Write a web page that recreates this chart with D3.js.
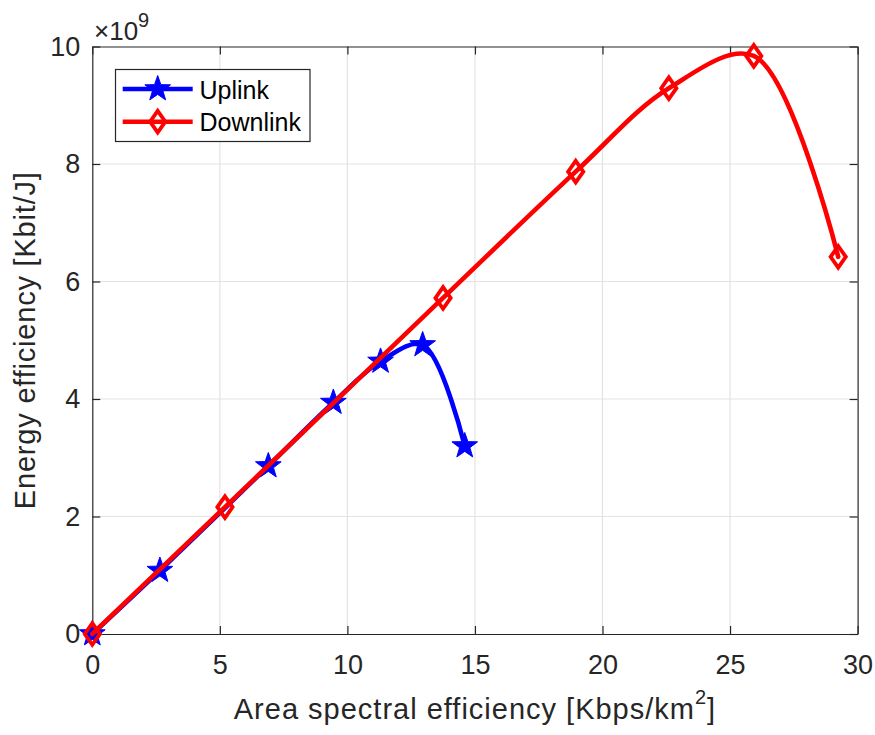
<!DOCTYPE html>
<html>
<head>
<meta charset="utf-8">
<script src="https://cdn.jsdelivr.net/npm/d3@7"></script>
<style>
  html, body { margin: 0; padding: 0; background: #fff; }
  svg { display: block; font-family: "Liberation Sans", Arial, Helvetica, sans-serif; }
</style>
</head>
<body>
<svg id="chart" width="875" height="735"></svg>
<script>
// Area spectral efficiency [Kbps/km^2] vs energy efficiency [x10^9 Kbit/J]
const uplinkASE   = [0, 2.65, 6.9, 9.45, 11.3, 12.95, 14.6];
const uplinkEE    = [0, 1.08, 2.86, 3.94, 4.64, 4.92, 3.2];
const downlinkASE = [0, 5.2, 13.75, 18.95, 22.6, 25.93, 29.24];
const downlinkEE  = [0, 2.16, 5.72, 7.87, 9.29, 9.84, 6.42];

const xTicks = [0, 5, 10, 15, 20, 25, 30];
const yTicks = [0, 2, 4, 6, 8, 10];
const seriesNames = ["Uplink", "Downlink"];
const seriesColors = ["#0000ff", "#ff0000"];

const svg = d3.select("#chart");
const plot = { left: 92.3, right: 857.6, top: 46.5, bottom: 634 };

const x = d3.scaleLinear().domain([0, 30]).range([plot.left, plot.right]);
const y = d3.scaleLinear().domain([0, 10]).range([plot.bottom, plot.top]);

const axisColor = "#262626";
const gridColor = "#e3e3e3";

// grid
const grid = svg.append("g");
grid.selectAll("line.gx").data(xTicks.slice(1, -1)).enter().append("line")
  .attr("x1", d => x(d)).attr("x2", d => x(d))
  .attr("y1", plot.top).attr("y2", plot.bottom)
  .attr("stroke", gridColor).attr("stroke-width", 1.2);
grid.selectAll("line.gy").data(yTicks.slice(1, -1)).enter().append("line")
  .attr("y1", d => y(d)).attr("y2", d => y(d))
  .attr("x1", plot.left).attr("x2", plot.right)
  .attr("stroke", gridColor).attr("stroke-width", 1.2);

// axes with inward ticks on all four sides
const tickLen = 8;
const fontSize = 27;
const xAxisB = d3.axisBottom(x).tickValues(xTicks).tickSizeInner(-tickLen).tickSizeOuter(0).tickPadding(21);
const xAxisT = d3.axisTop(x).tickValues(xTicks).tickSizeInner(-tickLen).tickSizeOuter(0).tickFormat("");
const yAxisL = d3.axisLeft(y).tickValues(yTicks).tickSizeInner(-tickLen).tickSizeOuter(0).tickPadding(12);
const yAxisR = d3.axisRight(y).tickValues(yTicks).tickSizeInner(-tickLen).tickSizeOuter(0).tickFormat("");

function styleAxis(g) {
  g.select(".domain").attr("stroke", axisColor).attr("stroke-width", 1.2);
  g.selectAll(".tick line").attr("stroke", axisColor).attr("stroke-width", 1.2);
  g.selectAll(".tick text").attr("fill", axisColor)
    .style("font-size", fontSize + "px")
    .style("font-family", "'Liberation Sans', Arial, sans-serif");
}

svg.append("g").attr("transform", `translate(0,${plot.bottom})`).call(xAxisB).call(styleAxis);
svg.append("g").attr("transform", `translate(0,${plot.top})`).call(xAxisT).call(styleAxis);
svg.append("g").attr("transform", `translate(${plot.left},0)`).call(yAxisL).call(styleAxis);
svg.append("g").attr("transform", `translate(${plot.right},0)`).call(yAxisR).call(styleAxis);

// exponent label
const expo = svg.append("text").attr("x", 94).attr("y", 40)
  .attr("fill", axisColor).style("font-size", "26px");
expo.append("tspan").text("\u00d710");
expo.append("tspan").attr("dy", -13).style("font-size", "20px").text("9");

// axis titles
const xt = svg.append("text").attr("x", (plot.left + plot.right) / 2).attr("y", 719)
  .attr("text-anchor", "middle").attr("fill", axisColor)
  .style("font-size", "29px").style("letter-spacing", "1px");
xt.append("tspan").text("Area spectral efficiency [Kbps/km");
xt.append("tspan").attr("dy", -15).style("font-size", "20px").text("2");
xt.append("tspan").attr("dy", 15).text("]");

svg.append("text")
  .attr("transform", `translate(35,${(plot.top + plot.bottom) / 2}) rotate(-90)`)
  .attr("text-anchor", "middle").attr("fill", axisColor)
  .style("font-size", "29px").style("letter-spacing", "0.8px")
  .text("Energy efficiency [Kbit/J]");

// marker shapes
function starPath(R) {
  const r = R * 0.4;
  const pts = [];
  for (let i = 0; i < 10; i++) {
    const a = -Math.PI / 2 + i * Math.PI / 5;
    const rad = i % 2 === 0 ? R : r;
    pts.push([rad * Math.cos(a), rad * Math.sin(a)]);
  }
  return "M" + pts.map(p => p[0].toFixed(2) + "," + p[1].toFixed(2)).join("L") + "Z";
}
function diamondPath(w, h) {
  return `M0,${-h}L${w},0L0,${h}L${-w},0Z`;
}
const star = starPath(13.5);
const diamond = diamondPath(7.6, 10.8);

const line = d3.line().x(d => x(d[0])).y(d => y(d[1])).curve(d3.curveCatmullRom.alpha(0.5));

const series = [
  { pts: d3.zip(uplinkASE, uplinkEE), color: seriesColors[0], marker: "star" },
  { pts: d3.zip(downlinkASE, downlinkEE), color: seriesColors[1], marker: "diamond" }
];

function drawMarker(g, m, color) {
  if (m === "star") {
    g.append("path").attr("d", star).attr("fill", color).attr("stroke", color).attr("stroke-width", 1);
  } else {
    g.append("path").attr("d", diamond).attr("fill", "none").attr("stroke", color).attr("stroke-width", 3.8);
  }
}

const plotG = svg.append("g");
series.forEach(s => {
  const g = plotG.append("g");
  g.append("path").datum(s.pts).attr("d", line)
    .attr("fill", "none").attr("stroke", s.color).attr("stroke-width", 4.6)
    .attr("stroke-linejoin", "round").attr("stroke-linecap", "round");
  s.pts.forEach(p => {
    const mg = g.append("g").attr("transform", `translate(${x(p[0])},${y(p[1])})`);
    drawMarker(mg, s.marker, s.color);
  });
});

// legend
const lg = svg.append("g");
lg.append("rect").attr("x", 115.5).attr("y", 69.5).attr("width", 194.5).attr("height", 72)
  .attr("fill", "#fff").attr("stroke", axisColor).attr("stroke-width", 1.2);
[0, 1].forEach(i => {
  const yy = [89, 121.7][i];
  lg.append("line").attr("x1", 122.7).attr("x2", 192.7).attr("y1", yy).attr("y2", yy)
    .attr("stroke", seriesColors[i]).attr("stroke-width", 4.6);
  const mg = lg.append("g").attr("transform", `translate(157.7,${yy})`);
  drawMarker(mg, i === 0 ? "star" : "diamond", seriesColors[i]);
  lg.append("text").attr("x", 199.5).attr("y", yy + 9.5).attr("fill", "#000")
    .style("font-size", "25px").text(seriesNames[i]);
});
</script>
</body>
</html>
